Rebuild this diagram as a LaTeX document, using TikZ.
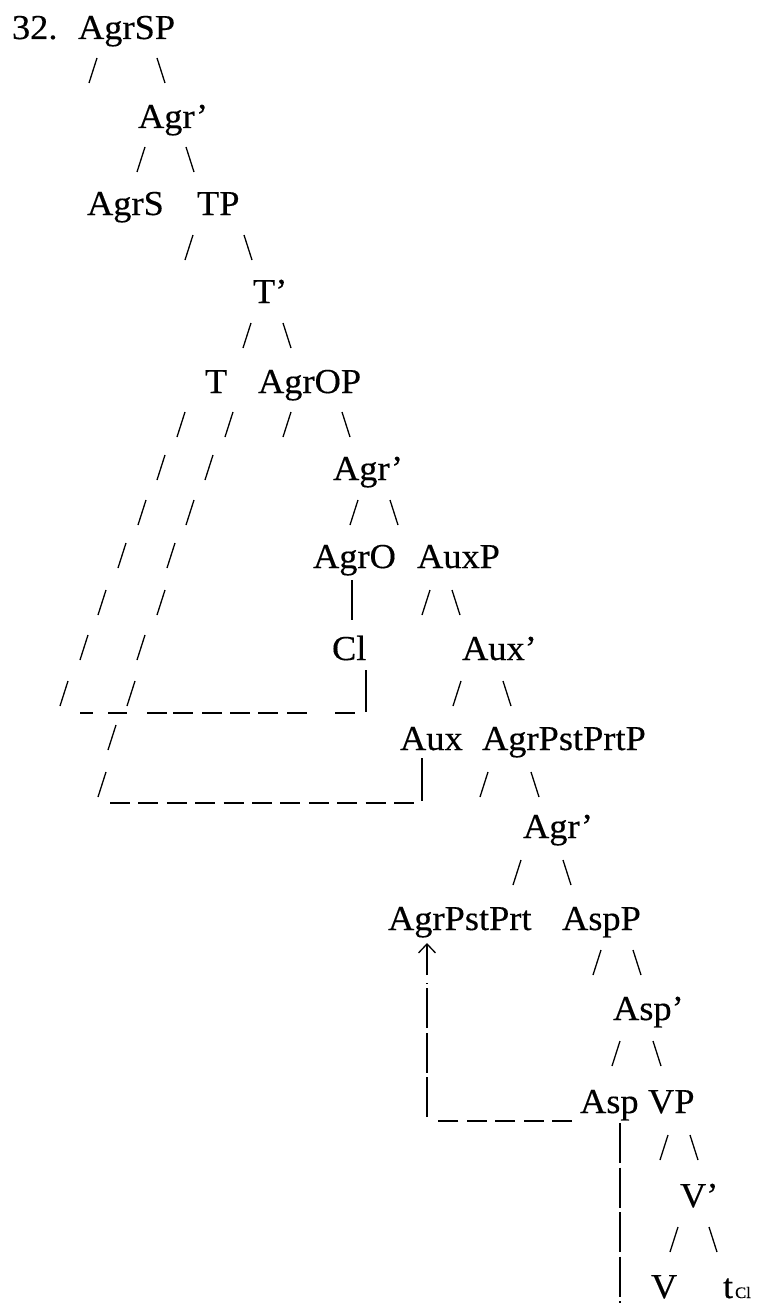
\documentclass[tikz,border=0pt]{standalone}
\usepackage{fontspec}
\setmainfont{Liberation Serif}[FakeStretch=1.04,FakeBold=0.3]
\usetikzlibrary{arrows.meta}
\newcommand\fwdsl[2]{\draw[sl] (#1,#2) -- ++(8,-25);}
\newcommand\bwdsl[2]{\draw[sl] (#1,#2-25) -- ++(8,25);}
\begin{document}
\begin{tikzpicture}[x=1pt,y=-1pt,
  lbl/.style={anchor=base west,inner sep=0pt,outer sep=0pt,font=\fontsize{35}{42}\selectfont},
  sl/.style={line width=1.3pt},
  bar/.style={line width=1.8pt},
  dsh/.style={line width=1.5pt,dash pattern=on 20pt off 8.4pt},
  vdsh/.style={line width=1.7pt,dash pattern=on 40pt off 4.5pt}]
\useasboundingbox (0,0) rectangle (759,1303);
% labels
\node[lbl] (num) at (12,39) {32.};
\node[lbl] (agrsp) at (78,39) {AgrSP};
\node[lbl] (agr1) at (138,128) {Agr’};
\node[lbl] (agrs) at (87,215) {AgrS};
\node[lbl] (tp) at (197,215) {TP};
\node[lbl] (tbar) at (253,303) {T’};
\node[lbl] (t) at (205,393) {T};
\node[lbl] (agrop) at (258,393) {AgrOP};
\node[lbl] (agr2) at (333,480) {Agr’};
\node[lbl] (agro) at (313,568) {AgrO};
\node[lbl] (auxp) at (417,568) {AuxP};
\node[lbl] (cl) at (332,660) {Cl};
\node[lbl] (auxbar) at (462,660) {Aux’};
\node[lbl] (aux) at (400,750) {Aux};
\node[lbl] (agrpp) at (482,750) {AgrPstPrtP};
\node[lbl] (agr3) at (523,838) {Agr’};
\node[lbl] (agrpst) at (388,930) {AgrPstPrt};
\node[lbl] (aspp) at (562,930) {AspP};
\node[lbl] (aspbar) at (613,1020) {Asp’};
\node[lbl] (asp) at (580,1113) {Asp};
\node[lbl] (vp) at (648,1113) {VP};
\node[lbl] (vbar) at (680,1207) {V’};
\node[lbl] (v) at (651,1298) {V};
\node[lbl] (tcl) at (723,1298) {t\kern2pt{\fontsize{16}{18}\selectfont Cl}};
% tree slashes
\fwdsl{89}{83} \bwdsl{157}{83}
\fwdsl{137}{172} \bwdsl{186}{172}
\fwdsl{185}{260} \bwdsl{244}{260}
\fwdsl{243}{348} \bwdsl{283}{348}
\fwdsl{177}{437} \fwdsl{225}{437} \fwdsl{283}{437} \bwdsl{342}{437}
\fwdsl{157}{480} \fwdsl{205}{480}
\fwdsl{138}{525} \fwdsl{186}{525} \fwdsl{350}{525} \bwdsl{390}{525}
\fwdsl{118}{568} \fwdsl{167}{568}
\fwdsl{98}{615} \fwdsl{157}{615} \fwdsl{422}{615} \bwdsl{452}{615}
\fwdsl{80}{660} \fwdsl{137}{660}
\fwdsl{60}{706} \fwdsl{127}{706} \fwdsl{453}{706} \bwdsl{503}{706}
\fwdsl{108}{750}
\fwdsl{98}{797} \fwdsl{480}{797} \bwdsl{531}{797}
\fwdsl{513}{885} \bwdsl{563}{885}
\fwdsl{593}{975} \bwdsl{633}{975}
\fwdsl{612}{1066} \bwdsl{653}{1066}
\fwdsl{660}{1160} \bwdsl{690}{1160}
\fwdsl{670}{1252} \bwdsl{709}{1252}
% vertical bars
\coordinate (agroB) at (352,580);
\coordinate (clT) at (352,620);
\draw[bar] (agroB) -- (clT);
\coordinate (clR) at (366,670);
\coordinate (clC) at (366,712);
\draw[bar] (clR) -- (clC);
\coordinate (auxB) at (422,758);
\coordinate (auxC) at (422,801);
\draw[bar] (auxB) -- (auxC);
% dashed line from Cl
\foreach \s/\e in {80/93,108/127,147/167,173/193,202/222,230/250,258/278,287/307,335/355}
  \draw[line width=1.5pt] (\s,713) -- (\e,713);
% dashed line from Aux
\draw[dsh] (110,803) -- (414,803);
% movement AgrPstPrt <- Asp
\coordinate (aspL) at (572,1121);
\coordinate (cornerA) at (438,1121);
\draw[dsh] (aspL) -- (cornerA);
\coordinate (arrB) at (427,1117);
\coordinate (arrM) at (427,983);
\draw[vdsh] (arrB) -- (arrM);
\draw[sl,-{Straight Barb[length=9pt,width=17pt,line width=1.3pt]}] (427,975) -- (427,943);
% vertical below Asp
\coordinate (aspB) at (620,1123);
\coordinate (aspE) at (620,1303);
\draw[vdsh] (aspB) -- (aspE);
\end{tikzpicture}
\end{document}
